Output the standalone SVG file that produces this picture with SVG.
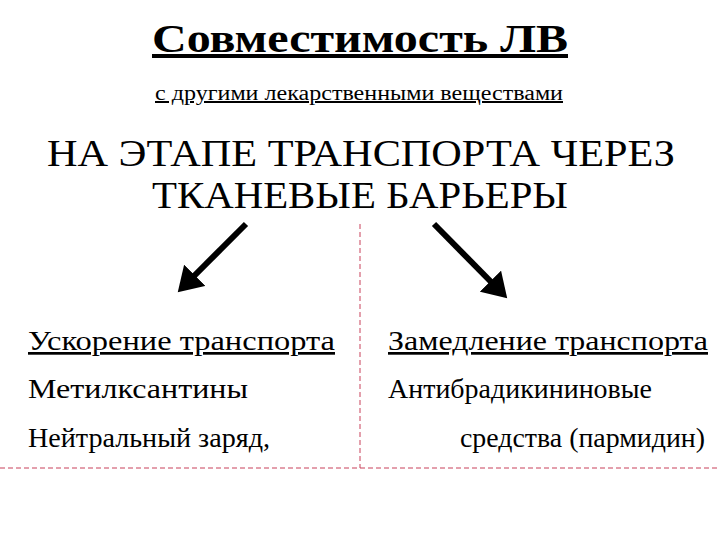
<svg xmlns="http://www.w3.org/2000/svg" width="720" height="540" viewBox="0 0 720 540">
<style>
text{font-family:"Liberation Serif","Times New Roman",serif;fill:#000}
.dash{stroke:#c8405a;stroke-width:1;stroke-dasharray:5,3;fill:none}
.arr{stroke:#000;stroke-width:6;fill:none;marker-end:url(#ah)}
</style>
<defs><marker id="ah" markerWidth="5" markerHeight="5" refX="3" refY="2.5" orient="auto" markerUnits="strokeWidth"><path d="M0,0 L4,2.5 L0,5 Z" fill="#000"/></marker></defs>
<rect width="720" height="540" fill="#fff"/>
<g id="title">
<text x="152" y="52" font-size="40" font-weight="bold" text-decoration="underline" textLength="416" lengthAdjust="spacingAndGlyphs">Совместимость ЛВ</text>
<text x="155" y="100" font-size="20" text-decoration="underline" textLength="408" lengthAdjust="spacingAndGlyphs">с другими лекарственными веществами</text>
<text x="47" y="166" font-size="37" textLength="628" lengthAdjust="spacingAndGlyphs">НА  ЭТАПЕ  ТРАНСПОРТА ЧЕРЕЗ</text>
<text x="152" y="208" font-size="37" textLength="416" lengthAdjust="spacingAndGlyphs">ТКАНЕВЫЕ БАРЬЕРЫ</text>
</g>
<g id="connectors">
<line class="dash" x1="360" y1="224" x2="360" y2="468"/>
<line class="dash" x1="0" y1="468" x2="720" y2="468"/>
<line class="arr" x1="246" y1="224" x2="182" y2="288"/>
<line class="arr" x1="434" y1="224" x2="503" y2="294"/>
</g>
<g id="left">
<text x="28" y="350" font-size="27" text-decoration="underline" textLength="307" lengthAdjust="spacingAndGlyphs">Ускорение транспорта</text>
<text x="28" y="398" font-size="27" textLength="220" lengthAdjust="spacingAndGlyphs">Метилксантины</text>
<text x="28" y="447" font-size="27" textLength="242" lengthAdjust="spacingAndGlyphs">Нейтральный заряд,</text>
</g>
<g id="right">
<text x="388" y="350" font-size="27" text-decoration="underline" textLength="320" lengthAdjust="spacingAndGlyphs">Замедление транспорта</text>
<text x="388" y="398" font-size="27" textLength="264" lengthAdjust="spacingAndGlyphs">Антибрадикининовые</text>
<text x="460" y="447" font-size="27" textLength="245" lengthAdjust="spacingAndGlyphs">средства (пармидин)</text>
</g>
</svg>
